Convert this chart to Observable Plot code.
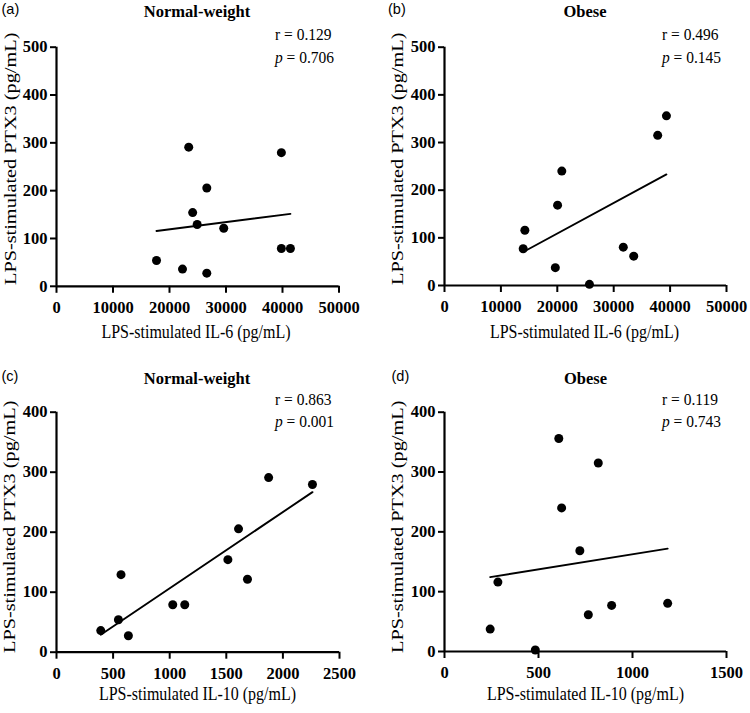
<!DOCTYPE html>
<html><head><meta charset="utf-8">
<script src="https://cdn.jsdelivr.net/npm/d3@7"></script>
<script src="https://cdn.jsdelivr.net/npm/@observablehq/plot@0.6"></script>
<style>
body{margin:0;background:#fff}
#fig{position:relative;width:750px;height:713px;overflow:hidden;background:#fff}
#fig > svg{position:absolute}
</style>
</head><body><div id="fig"></div>
<script>
// ---- data ----
const ptx3Normal = [291, 279.5, 205.6, 154.2, 129.2, 121.5, 79, 79, 54, 36, 27.5];
const il6Normal  = [23400, 39800, 26600, 24100, 24900, 29600, 39800, 41400, 17700, 22300, 26600];
const il10Normal = [1874, 2261, 1608, 1514, 570, 1687, 1027, 1133, 547, 391, 635];
const ptx3Obese  = [356, 315, 240, 168.5, 116, 77, 80.5, 61.5, 37.5, 2.5];
const il6Obese   = [39350, 37800, 20800, 20050, 14250, 13950, 31700, 33550, 19650, 25700];
const il10Obese  = [608, 818, 623, 720, 284, 889, 1187, 765, 243, 483];

const il6Ticks = [0, 10000, 20000, 30000, 40000, 50000];
const il10NormalTicks = [0, 500, 1000, 1500, 2000, 2500];
const il10ObeseTicks = [0, 500, 1000, 1500];
const ptx3TicksTop = [0, 100, 200, 300, 400, 500];
const ptx3TicksBottom = [0, 100, 200, 300, 400];

const panelLetters = ["(a)", "(b)", "(c)", "(d)"];
const panelTitles = ["Normal-weight", "Obese", "Normal-weight", "Obese"];
const rValues = ["0.129", "0.496", "0.863", "0.119"];
const pValues = ["0.706", "0.145", "0.001", "0.743"];
const xLabels = ["LPS-stimulated IL-6 (pg/mL)", "LPS-stimulated IL-6 (pg/mL)", "LPS-stimulated IL-10 (pg/mL)", "LPS-stimulated IL-10 (pg/mL)"];
const yLabel = "LPS-stimulated PTX3 (pg/mL)";

// ---- panels ----
const fig = document.getElementById("fig");
const serif = "'Liberation Serif', 'Times New Roman', serif";

function makeRows(xs, ys) { return xs.map((x, i) => ({x, y: ys[i]})); }

const panels = [
  {rows: makeRows(il6Normal, ptx3Normal), xd: [0, 50000], xt: il6Ticks, yd: [0, 500], yt: ptx3TicksTop,
   left: 0, top: 0, h: 340, ml: 56, mr: 36.5, mt: 46.7, mb: 54.2},
  {rows: makeRows(il6Obese, ptx3Obese), xd: [0, 50000], xt: il6Ticks, yd: [0, 500], yt: ptx3TicksTop,
   left: 375, top: 0, h: 340, ml: 69, mr: 24, mt: 46.7, mb: 55},
  {rows: makeRows(il10Normal, ptx3Normal), xd: [0, 2500], xt: il10NormalTicks, yd: [0, 400], yt: ptx3TicksBottom,
   left: 0, top: 340, h: 373, ml: 56, mr: 36, mt: 71.7, mb: 61.3},
  {rows: makeRows(il10Obese, ptx3Obese), xd: [0, 1500], xt: il10ObeseTicks, yd: [0, 400], yt: ptx3TicksBottom,
   left: 375, top: 340, h: 373, ml: 69, mr: 24, mt: 71.7, mb: 62}
];

panels.forEach(p => {
  const svg = Plot.plot({
    width: 375, height: p.h,
    marginLeft: p.ml, marginRight: p.mr, marginTop: p.mt, marginBottom: p.mb,
    style: {fontFamily: serif, fontSize: "16px", fontWeight: "bold", background: "transparent", color: "black", overflow: "visible"},
    x: {domain: p.xd},
    y: {domain: p.yd},
    marks: [
      Plot.axisX({ticks: p.xt, tickFormat: "d", tickSize: 7, tickPadding: 8, strokeWidth: 2, label: null, fontSize: 16.5, fontWeight: "bold"}),
      Plot.axisY({ticks: p.yt, tickFormat: "d", tickSize: 6, tickPadding: 3, strokeWidth: 2, label: null, fontSize: 16.5, fontWeight: "bold"}),
      Plot.ruleY([0], {strokeWidth: 2.2}),
      Plot.ruleX([0], {strokeWidth: 2.2}),
      Plot.linearRegressionY(p.rows, {x: "x", y: "y", ci: 0, stroke: "black", strokeWidth: 1.9}),
      Plot.dot(p.rows, {x: "x", y: "y", r: 4.5, fill: "black", stroke: "none"})
    ]
  });
  svg.style.left = p.left + "px";
  svg.style.top = p.top + "px";
  fig.appendChild(svg);
});

// ---- text overlay ----
const ov = d3.select(fig).append("svg")
  .attr("width", 750).attr("height", 713)
  .style("left", "0px").style("top", "0px").style("pointer-events", "none");

const letterPos = [[1.5, 13.5], [388, 13.5], [1.5, 380.5], [391.5, 380.5]];
const titlePos = [[197, 17], [585, 17], [197, 384], [585.5, 384]];
const statPos = [[275, 40, 63], [662, 40, 63], [275, 405, 427], [662, 405, 427]];
const xLabPos = [[196, 338], [584.5, 338], [197.5, 700], [585.5, 700]];
const yLabPos = [[15.5, 285], [403, 285], [15, 653], [403, 653]];

for (let i = 0; i < 4; i++) {
  ov.append("text").attr("x", letterPos[i][0]).attr("y", letterPos[i][1])
    .attr("font-family", "'Liberation Sans', Arial, sans-serif").attr("font-size", 14.5)
    .text(panelLetters[i]);
  ov.append("text").attr("x", titlePos[i][0]).attr("y", titlePos[i][1])
    .attr("text-anchor", "middle").attr("font-family", serif).attr("font-weight", "bold")
    .attr("font-size", 16.5).text(panelTitles[i]);
  const [sx, ry, py] = statPos[i];
  ov.append("text").attr("transform", `translate(${sx},${ry}) scale(1,1.1)`)
    .attr("font-family", serif).attr("font-size", 15.5).text("r = " + rValues[i]);
  const pt = ov.append("text").attr("transform", `translate(${sx},${py}) scale(1,1.1)`)
    .attr("font-family", serif).attr("font-size", 15.5);
  pt.append("tspan").attr("font-style", "italic").text("p");
  pt.append("tspan").text(" = " + pValues[i]);
  ov.append("text").attr("transform", `translate(${xLabPos[i][0]},${xLabPos[i][1]}) scale(1,1.2)`)
    .attr("text-anchor", "middle").attr("font-family", serif).attr("font-size", 16)
    .text(xLabels[i]);
  ov.append("text").attr("transform", `translate(${yLabPos[i][0]},${yLabPos[i][1]}) rotate(-90) scale(1.23,1)`)
    .attr("text-anchor", "start").attr("font-family", serif).attr("font-size", 16.5)
    .text(yLabel);
}
</script></body></html>
